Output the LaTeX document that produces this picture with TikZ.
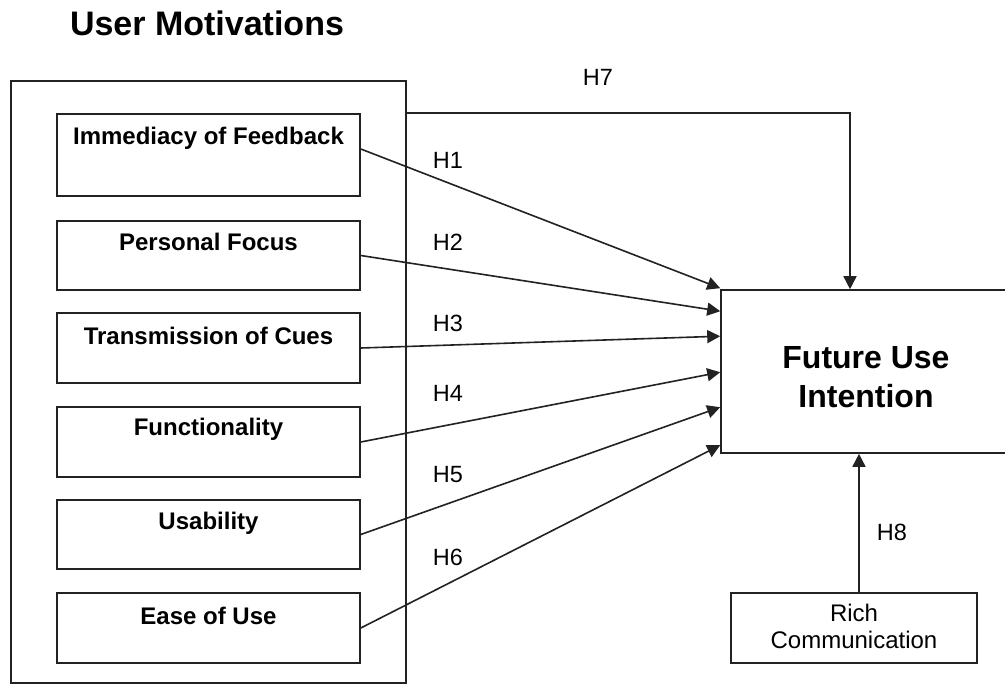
\documentclass[tikz,border=0pt]{standalone}
\usepackage{fontspec}
\setmainfont{Liberation Sans}
\usetikzlibrary{arrows.meta,calc}
\definecolor{ink}{HTML}{222222}
\tikzset{
  box/.style={draw=ink, line width=1.6pt, rectangle, inner sep=0pt},
  lbl/.style={inner sep=0pt, font=\fontsize{24}{28}\selectfont\bfseries},
  hlbl/.style={inner sep=0pt, font=\fontsize{23.5}{28}\selectfont},
  arr/.style={draw=ink, line width=1.6pt, -{Triangle[length=13pt,width=13pt]}},
}
\begin{document}
\begin{tikzpicture}[x=1pt,y=-1pt]
\useasboundingbox (0,0) rectangle (1005,685);
\clip (0,0) rectangle (1005,685);
\fill[white] (0,0) rectangle (1005,685);
% title
\node[inner sep=0pt, font=\fontsize{34}{40}\selectfont\bfseries] (title) at (207,23.5) {User Motivations};
% outer box
\node[box, minimum width=395pt, minimum height=602pt] (outer) at (208.5,382) {};
% inner boxes
\node[box, minimum width=303pt, minimum height=82pt] (imm) at (208.5,155) {};
\node[box, minimum width=303pt, minimum height=69pt] (pers) at (208.5,255.5) {};
\node[box, minimum width=303pt, minimum height=70pt] (trans) at (208.5,348) {};
\node[box, minimum width=303pt, minimum height=70pt] (func) at (208.5,442) {};
\node[box, minimum width=303pt, minimum height=69pt] (usab) at (208.5,534.5) {};
\node[box, minimum width=303pt, minimum height=70pt] (ease) at (208.5,628) {};
\node[lbl] (immL) at ([yshift=-25pt]imm.north) {Immediacy of Feedback};
\node[lbl] (persL) at ([yshift=-22pt]pers.north) {Personal Focus};
\node[lbl] (transL) at ([yshift=-24pt]trans.north) {Transmission of Cues};
\node[lbl] (funcL) at ([yshift=-23pt]func.north) {Functionality};
\node[lbl] (usabL) at ([yshift=-24pt]usab.north) {Usability};
\node[lbl] (easeL) at ([yshift=-24pt]ease.north) {Ease of Use};
% outcome
\node[box, minimum width=289pt, minimum height=163pt] (fut) at (865.5,371.5) {};
\node[inner sep=0pt, align=center, font=\fontsize{32}{39}\selectfont\bfseries] (futL) at (866,377) {Future Use\\Intention};
\node[box, minimum width=246pt, minimum height=70pt] (rich) at (854,628) {};
\node[inner sep=0pt, align=center, font=\fontsize{24}{27}\selectfont] (richL) at (854,626.5) {Rich\\Communication};
% arrows
\draw[arr] ([yshift=6pt]imm.east) -- ([yshift=1pt]fut.north west);
\draw[arr] (pers.east) -- ([yshift=-22pt]fut.north west);
\draw[arr] (trans.east) -- ([yshift=-47pt]fut.north west);
\draw[arr] (func.east) -- ([yshift=-83pt]fut.north west);
\draw[arr] (usab.east) -- ([yshift=-118pt]fut.north west);
\draw[arr] (ease.east) -- ([yshift=-156pt]fut.north west);
\draw[arr] ([yshift=-33pt]outer.north east) -| ([xshift=-15.5pt]fut.north);
\draw[arr] ([xshift=5pt]rich.north) -- ([xshift=5pt]rich.north |- fut.south);
% hypothesis labels
\node[hlbl] (h1) at (448,160) {H1};
\node[hlbl] (h2) at (448,242) {H2};
\node[hlbl] (h3) at (448,323) {H3};
\node[hlbl] (h4) at (448,393) {H4};
\node[hlbl] (h5) at (448,475) {H5};
\node[hlbl] (h6) at (448,557) {H6};
\node[hlbl] (h7) at (598,77) {H7};
\node[hlbl] (h8) at (892,532) {H8};
\end{tikzpicture}
\end{document}
